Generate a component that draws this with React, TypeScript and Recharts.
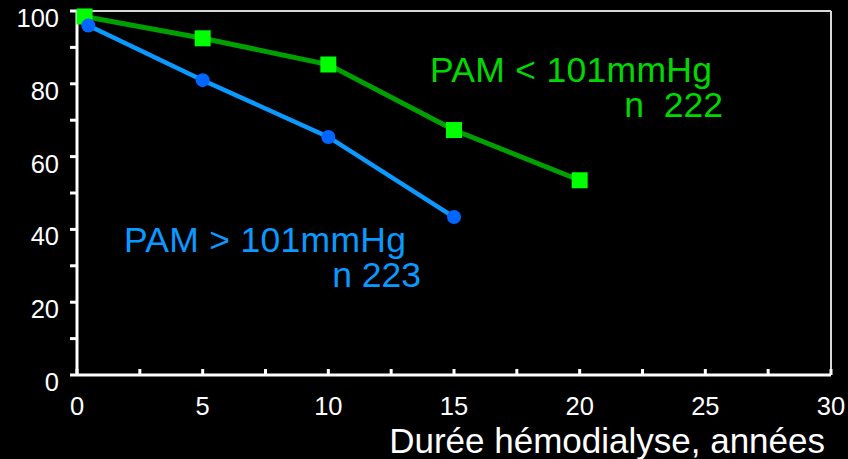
import { Line, LineChart, ReferenceLine, XAxis, YAxis, Label } from "recharts"

const pamLowX = [0.3, 5, 10, 15, 20]
const pamLowY = [98.5, 92.5, 85.3, 67.3, 53.5]
const pamHighX = [0.45, 5, 10, 15]
const pamHighY = [96, 81, 65.4, 43.4]

const xTicks = [0, 2.5, 5, 7.5, 10, 12.5, 15, 17.5, 20, 22.5, 25, 27.5, 30]
const yTicks = [0, 10, 20, 30, 40, 50, 60, 70, 80, 90, 100]

const lowData = pamLowX.map((x, i) => ({ x, y: pamLowY[i] }))
const highData = pamHighX.map((x, i) => ({ x, y: pamHighY[i] }))

const font = "Arial, 'Liberation Sans', sans-serif"
const tickStyle = { fontSize: 25.5, fill: "#ffffff", fontFamily: font }

function SquareDot(props: any) {
  const { cx, cy, index } = props
  return <rect key={`sq-${index}`} x={cx - 8} y={cy - 8} width={16} height={16} fill="#00ff00" />
}

export default function App() {
  return (
    <div style={{ position: "fixed", left: 0, top: 0, width: 848, height: 459, background: "#000" }}>
      <LineChart
        width={848}
        height={459}
        margin={{ top: 11, right: 17, left: 0, bottom: 0 }}
        style={{ background: "#000" }}
      >
        <XAxis
          type="number"
          dataKey="x"
          domain={[0, 30]}
          ticks={xTicks}
          interval={0}
          height={84}
          stroke="#ffffff"
          strokeWidth={3}
          tickSize={-6}
          tickMargin={28}
          tick={tickStyle}
          tickFormatter={(v: number) => (v % 5 === 0 ? String(v) : "")}
        >
          <Label
            value="Durée hémodialyse, années"
            position="insideBottomRight"
            offset={6}
            style={{ fontSize: 35, fill: "#ffffff", fontFamily: font }}
          />
        </XAxis>
        <YAxis
          type="number"
          domain={[0, 100]}
          ticks={yTicks}
          interval={0}
          width={77}
          stroke="#ffffff"
          strokeWidth={3}
          tickSize={7}
          tickMargin={11}
          tick={{ ...tickStyle, dy: 7 }}
          tickFormatter={(v: number) => (v % 20 === 0 ? String(v) : "")}
        />
        <ReferenceLine y={100} stroke="#d8d8d8" strokeWidth={2} />
        <ReferenceLine x={30} stroke="#d8d8d8" strokeWidth={2} />
        <Line
          data={lowData}
          dataKey="y"
          type="linear"
          stroke="#00a000"
          strokeWidth={5}
          dot={<SquareDot />}
          isAnimationActive={false}
        />
        <Line
          data={highData}
          dataKey="y"
          type="linear"
          stroke="#0a9aff"
          strokeWidth={4.5}
          dot={{ r: 7, fill: "#0066ff", stroke: "none" }}
          isAnimationActive={false}
        />
      </LineChart>
      <svg
        width={848}
        height={459}
        style={{ position: "absolute", left: 0, top: 0, pointerEvents: "none" }}
      >
        <g fontFamily={font} fontSize={35.5}>
          <text x={430} y={82} fill="#00d800" textLength={282}>PAM &lt; 101mmHg</text>
          <text x={723} y={117} fill="#00d800" textAnchor="end" style={{ whiteSpace: "pre" }}>
            {"n  222"}
          </text>
          <text x={124} y={252} fill="#0a9aff" textLength={282}>PAM &gt; 101mmHg</text>
          <text x={421} y={287} fill="#0a9aff" textAnchor="end">n 223</text>
        </g>
      </svg>
    </div>
  )
}
